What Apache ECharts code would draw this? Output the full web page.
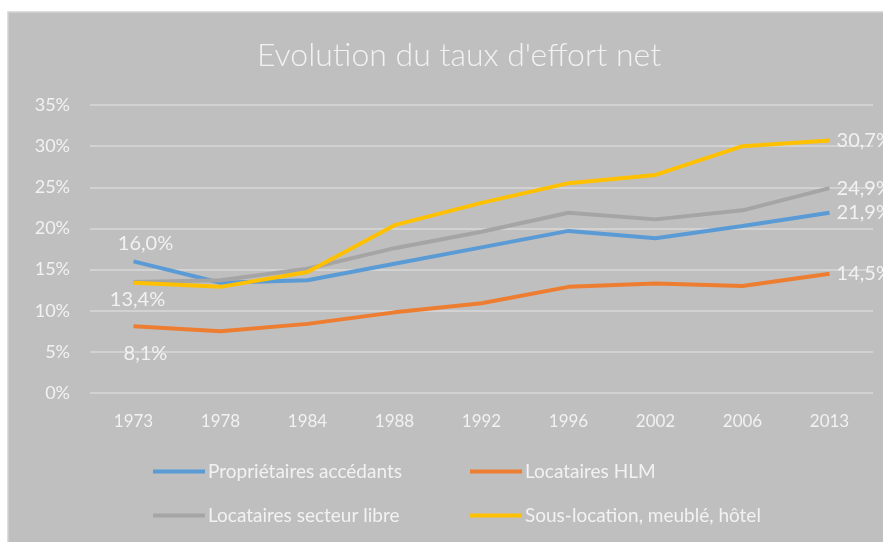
<!DOCTYPE html>
<html>
<head>
<meta charset="utf-8">
<script src="https://cdn.jsdelivr.net/npm/echarts@6/dist/echarts.min.js"></script>
<style>
  html, body { margin: 0; padding: 0; background: #fff; }
  #chart { width: 883px; height: 542px; }
</style>
</head>
<body>
<div id="chart"></div>
<script>
// données
var annees = ['1973', '1978', '1984', '1988', '1992', '1996', '2002', '2006', '2013'];
var proprietaires = [16.0, 13.4, 13.7, 15.7, 17.7, 19.7, 18.8, 20.3, 21.9];
var hlm = [8.1, 7.5, 8.4, 9.8, 10.9, 12.9, 13.3, 13.0, 14.5];
var secteurLibre = [13.5, 13.7, 15.1, 17.6, 19.6, 21.9, 21.1, 22.2, 24.9];
var sousLocation = [13.4, 12.9, 14.7, 20.4, 23.1, 25.5, 26.5, 30.0, 30.7];
var yTicks = [0, 5, 10, 15, 20, 25, 30, 35];

var txt = '#f2f2f2';
var police = 'Lato';

function fmt(v) {
	return v.toFixed(1).replace('.', ',') + '%';
}

// seul le premier et le dernier point portent une étiquette
function points(values, firstPos, firstOffset) {
	return values.map(function(v, i) {
		var item = { value: v };
		if (i === values.length - 1) {
			item.label = { show: true, position: 'right', distance: 7 };
		} else if (i === 0 && firstPos) {
			item.label = { show: true, position: firstPos, offset: firstOffset };
		}
		return item;
	});
}

function serie(name, color, data) {
	return {
		name: name,
		type: 'line',
		data: data,
		symbol: 'circle',
		symbolSize: 0.1,
		showAllSymbol: true,
		lineStyle: { color: color, width: 4 },
		itemStyle: { color: color },
		label: {
			show: false,
			color: txt,
			fontFamily: police,
			fontSize: 20,
			formatter: function(p) { return fmt(p.value); }
		}
	};
}

function legende(name, left, top) {
	return {
		data: [name],
		left: left,
		top: top,
		icon: 'rect',
		itemWidth: 52,
		itemHeight: 4,
		itemGap: 0,
		textStyle: { color: txt, fontFamily: police, fontSize: 19, padding: [0, 0, 0, -2] }
	};
}

var myChart = echarts.init(document.getElementById('chart'));
myChart.setOption({
	backgroundColor: '#ffffff',
	animation: false,
	graphic: [{
		type: 'rect',
		z: -10,
		silent: true,
		shape: { x: 8, y: 12, width: 880, height: 535 },
		style: { fill: '#bfbfbf', stroke: '#d4d4d4', lineWidth: 1.5 }
	}],
	title: {
		text: 'Evolution du taux d\'effort net',
		left: 252,
		top: 35,
		textStyle: { color: txt, fontFamily: police, fontWeight: 300, fontSize: 32 }
	},
	legend: [
		legende('Propriétaires accédants', 148, 457),
		legende('Locataires HLM', 465, 457),
		legende('Locataires secteur libre', 148, 501),
		legende('Sous-location, meublé, hôtel', 465, 501)
	],
	grid: { left: 90, right: 10, top: 105, bottom: 149 },
	xAxis: {
		type: 'category',
		data: annees,
		boundaryGap: true,
		axisLine: { show: false },
		axisTick: { show: false },
		axisLabel: { color: txt, fontFamily: police, fontSize: 17, margin: 20 }
	},
	yAxis: {
		type: 'value',
		min: yTicks[0],
		max: yTicks[yTicks.length - 1],
		interval: 5,
		axisLine: { show: false },
		axisTick: { show: false },
		axisLabel: { color: txt, fontFamily: police, fontSize: 18, margin: 20, formatter: '{value}%' },
		splitLine: { lineStyle: { color: '#d9d9d9', width: 1.5 } }
	},
	series: [
		serie('Propriétaires accédants', '#5b9bd5', points(proprietaires, 'top', [12, -3])),
		serie('Locataires HLM', '#ed7d31', points(hlm, 'bottom', [12, 12])),
		serie('Locataires secteur libre', '#a5a5a5', points(secteurLibre, null)),
		serie('Sous-location, meublé, hôtel', '#ffc000', points(sousLocation, 'bottom', [4, 2]))
	]
});
</script>
</body>
</html>
